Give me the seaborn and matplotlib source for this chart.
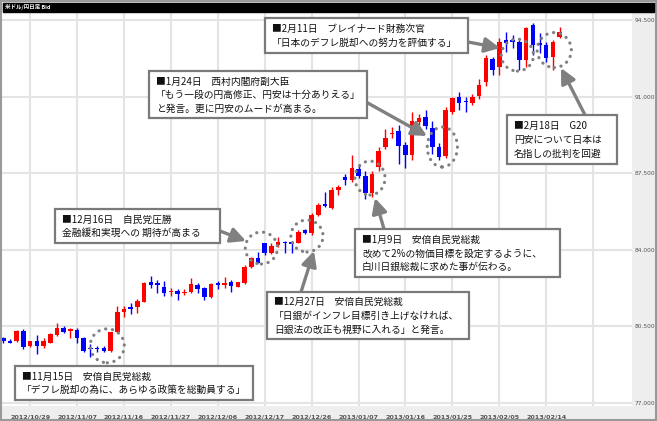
import numpy as np
import pandas as pd
import matplotlib
matplotlib.use("Agg")
import matplotlib.pyplot as plt
import seaborn as sns
from matplotlib.patches import Ellipse, Rectangle

sns.set_theme(style="white")
plt.rcParams['font.family'] = ['Noto Sans CJK JP', 'DejaVu Sans']

# USD/JPY daily candles, 2012/10/23 - 2013/02/18 (Jan 1 closed)
dates = pd.bdate_range("2012-10-23", "2013-02-18")
dates = dates[dates != pd.Timestamp("2013-01-01")]

opens = [79.96, 79.85, 79.81, 80.29, 79.61, 79.81, 79.61, 79.76, 80.11, 80.42,
         80.29, 80.34, 79.99, 79.50, 79.49, 79.50, 79.38, 80.22, 81.16, 81.38,
         81.38, 81.63, 82.53, 82.47, 82.32, 82.07, 82.13, 82.04, 82.06, 82.38,
         82.24, 81.83, 82.47, 82.38, 82.52, 82.32, 82.50, 83.23, 83.61, 84.30,
         83.84, 84.22, 84.35, 84.37, 84.33, 84.91, 84.76, 85.59, 86.09, 85.90,
         86.75, 87.31, 87.19, 87.68, 87.37, 86.58, 87.80, 88.71, 89.28, 89.44,
         88.79, 88.33, 89.83, 90.05, 89.55, 88.71, 88.30, 90.31, 91.00, 90.80,
         90.70, 91.03, 91.68, 92.70, 92.37, 93.59, 93.59, 93.51, 92.67, 94.27,
         93.44, 93.36, 92.82, 93.74]
highs = [80.03, 79.90, 80.35, 80.37, 79.85, 80.11, 79.96, 80.20, 80.64, 80.52,
         80.42, 80.42, 80.03, 79.70, 79.60, 79.60, 80.26, 81.43, 81.43, 81.56,
         81.75, 82.55, 82.82, 82.62, 82.59, 82.24, 82.20, 82.20, 82.70, 82.47,
         82.32, 82.47, 82.59, 82.77, 82.62, 82.55, 83.30, 83.69, 83.92, 84.33,
         84.30, 84.57, 84.42, 84.42, 84.91, 84.95, 85.67, 86.13, 86.66, 86.85,
         86.95, 87.45, 88.33, 87.90, 87.60, 87.60, 88.70, 89.50, 89.62, 89.70,
         88.95, 90.30, 90.20, 90.40, 89.90, 88.90, 90.53, 91.00, 91.23, 91.00,
         91.10, 91.80, 92.90, 92.80, 93.66, 93.97, 93.81, 93.59, 94.19, 94.35,
         93.90, 93.50, 93.59, 94.20]
lows = [79.73, 79.72, 79.78, 79.46, 79.55, 79.24, 79.50, 79.72, 80.08, 80.19,
        79.96, 79.76, 79.35, 79.09, 79.35, 79.35, 79.35, 80.20, 80.95, 81.07,
        81.13, 81.60, 82.27, 82.04, 81.89, 81.89, 81.71, 81.93, 82.04, 82.01,
        81.71, 81.79, 82.20, 82.24, 82.09, 82.30, 82.45, 83.16, 83.39, 83.76,
        83.80, 84.14, 83.84, 83.84, 84.30, 84.70, 84.68, 85.55, 85.97, 85.85,
        86.50, 86.95, 87.11, 87.30, 86.30, 86.40, 87.60, 88.60, 89.10, 87.90,
        87.72, 88.10, 89.70, 89.50, 88.40, 88.10, 88.20, 90.20, 90.39, 90.31,
        90.60, 90.90, 91.50, 92.00, 91.99, 93.05, 93.21, 92.22, 92.37, 92.90,
        93.00, 92.60, 92.22, 93.70]
closes = [79.84, 79.76, 80.31, 79.55, 79.81, 79.61, 79.84, 80.16, 80.42, 80.26,
          80.37, 79.96, 79.38, 79.46, 79.45, 79.39, 80.22, 81.17, 81.28, 81.31,
          81.68, 82.50, 82.41, 82.38, 82.01, 82.13, 82.00, 82.09, 82.43, 82.20,
          81.86, 82.44, 82.38, 82.47, 82.35, 82.52, 83.20, 83.61, 83.41, 83.84,
          84.18, 84.37, 84.32, 84.27, 84.83, 84.79, 85.59, 86.05, 86.00, 86.75,
          86.85, 87.19, 87.72, 87.37, 86.58, 87.46, 88.53, 89.12, 89.35, 88.74,
          88.33, 89.90, 90.01, 89.66, 88.71, 88.26, 90.39, 90.92, 90.70, 90.75,
          91.00, 91.53, 92.75, 92.20, 93.51, 93.46, 93.52, 92.67, 94.12, 93.36,
          93.36, 92.75, 93.51, 93.97]

y_ticks = [77.0, 80.5, 84.0, 87.5, 91.0, 94.5]
tick_every = 7

# event markers: (date index, price, width, height)
circles = [(15.5, 79.61, 5.1, 1.55), (38.5, 84.08, 4.8, 1.46), (45.3, 84.63, 4.8, 1.46),
           (54.7, 87.28, 4.5, 1.55), (65.5, 88.70, 4.5, 1.83), (76.7, 92.90, 4.8, 1.46),
           (82.2, 93.13, 5.1, 1.60)]

notes = [
    ((265, 18, 468, 53), "■2月11日　ブレイナード財務次官\n「日本のデフレ脱却への努力を評価する」",
     (468, 42), (500, 48)),
    ((149, 71, 367, 118), "■1月24日　西村内閣府副大臣\n「もう一段の円高修正、円安は十分ありえる」\nと発言。更に円安のムードが高まる。",
     (366, 102), (427, 136)),
    ((507, 115, 617, 164), "■2月18日　G20\n円安について日本は\n名指しの批判を回避",
     (585, 115), (561, 68)),
    ((55, 209, 220, 243), "■12月16日　自民党圧勝\n金融緩和実現への 期待が高まる",
     (220, 231), (246, 241)),
    ((355, 229, 560, 277), "■1月9日　安倍自民党総裁\n改めて2%の物価目標を設定するように、\n白川日銀総裁に求めた事が伝わる。",
     (384, 229), (375, 198)),
    ((267, 292, 469, 339), "■12月27日　安倍自民党総裁\n「日銀がインフレ目標引き上げなければ、\n日銀法の改正も視野に入れる」と発言。",
     (301, 292), (314, 251)),
    ((15, 366, 253, 400), "■11月15日　安倍自民党総裁\n「デフレ脱却の為に、あらゆる政策を総動員する」",
     None, None),
]

df = pd.DataFrame({"date": dates, "open": opens, "high": highs, "low": lows, "close": closes})
df["x"] = np.arange(len(df))
df["up"] = df["close"] >= df["open"]

W, H = 657, 421
fig = plt.figure(figsize=(W / 100, H / 100), dpi=100, facecolor="#eeeeee")
ax = fig.add_axes([2 / W, 1 - 406 / H, 630 / W, 394 / H])
ax.set_facecolor("white")

colors = np.where(df["up"], "#ff0000", "#0000ff")
ax.vlines(df["x"], df["low"], df["high"], colors=colors, linewidth=1, zorder=3)
body_lo = np.minimum(df["open"], df["close"])
body_h = np.maximum((df["close"] - df["open"]).abs(), 0.04)
ax.bar(df["x"], body_h, bottom=body_lo, width=0.68, color=colors, linewidth=0, zorder=4)

for cx, cy, cw, ch in circles:
    ax.add_patch(Ellipse((cx, cy), cw, ch, fill=False, edgecolor="#808080", linewidth=2.3,
                         linestyle=(0, (0.05, 2.1)), capstyle="round", zorder=6))

ax.set_xlim(-0.2, 93.8)
ax.set_ylim(76.86, 94.87)
xt = list(range(4, 89, tick_every))
ax.set_xticks(xt)
ax.set_xticklabels([df["date"][i].strftime("%Y/%m/%d") if i < len(df) else "" for i in xt],
                   fontsize=4.6, color="#555555", fontweight="bold", family="DejaVu Sans")
ax.yaxis.tick_right()
ax.set_yticks(y_ticks)
ax.set_yticklabels([f"{v:.3f}" for v in y_ticks], fontsize=4.2, color="#555555", family="DejaVu Sans")
ax.tick_params(axis="both", length=0)
ax.tick_params(axis="x", pad=6)
ax.tick_params(axis="y", pad=2)
ax.grid(True, color="#e4e4e4", linewidth=1.5)
ax.set_axisbelow(True)
for s in ax.spines.values():
    s.set_visible(False)

# overlay in pixel coordinates for frame, title bar and notes
ov = fig.add_axes([0, 0, 1, 1], facecolor="none")
ov.set_xlim(0, W)
ov.set_ylim(H, 0)
ov.axis("off")
ov.set_zorder(10)
ov.add_patch(Rectangle((0.5, 0.5), W - 1.5, H - 1.5, fill=False, edgecolor="#999999", linewidth=1.5))
ov.add_patch(Rectangle((3, 3), W - 6, 9, color="black"))
ov.text(5, 7.5, "米ドル/円日足 Bid", color="white", fontsize=4, fontweight="bold", va="center")

for (x0, y0, x1, y1), txt, start, tip in notes:
    if start is not None:
        ov.annotate("", xy=tip, xytext=start,
                    arrowprops=dict(arrowstyle="-|>,head_length=0.9,head_width=0.45",
                                    color="#808080", lw=2.4, shrinkA=0, shrinkB=0,
                                    mutation_scale=10))
    ov.add_patch(Rectangle((x0, y0), x1 - x0, y1 - y0, facecolor="white",
                           edgecolor="#7a7a7a", linewidth=1.6, zorder=5))
    ov.text(x0 + 7, (y0 + y1) / 2 + 0.5, txt, fontsize=7, color="#111111", va="center",
            ha="left", linespacing=1.45, zorder=6)

fig.savefig("out.png", dpi=100, facecolor=fig.get_facecolor())
